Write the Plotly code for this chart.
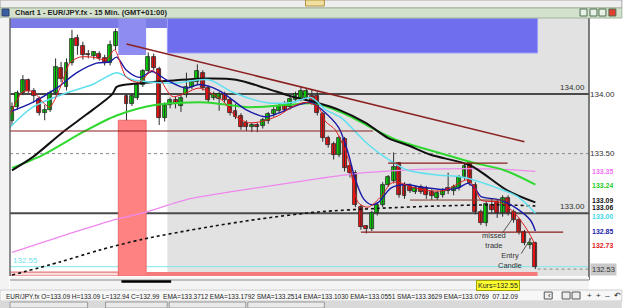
import plotly.graph_objects as go

# ---------------- data (EUR/JPY 15 min) ----------------
candle_x = list(range(0, 20)) + list(range(21, 97))   # index 20 = gap (no bar)
opens = [133.77, 133.89, 134.01, 134.12, 134.03, 133.96, 133.84, 133.87, 134.01, 134.22,
         134.06, 134.26, 134.47, 134.40, 134.34, 134.32, 134.34, 134.30, 134.26, 134.40,
         133.98, 133.92, 133.97, 134.08, 134.19, 134.31, 134.21, 133.80, 133.91, 133.95,
         133.90, 133.99, 134.06, 134.10, 134.18, 134.05, 133.97, 133.96, 134.00, 133.95,
         133.86, 133.82, 133.76, 133.72, 133.74, 133.73, 133.77, 133.83, 133.86, 133.92,
         133.89, 133.95, 133.96, 133.97, 133.98, 133.98, 133.83, 133.63, 133.58, 133.49,
         133.62, 133.40, 133.34, 133.05, 132.89, 132.87, 133.00, 133.07, 133.24, 133.27,
         133.42, 133.24, 133.23, 133.18, 133.22, 133.21, 133.18, 133.13, 133.15, 133.21,
         133.19, 133.21, 133.30, 133.42, 133.24, 133.01, 132.92, 133.07, 133.09, 133.00,
         133.13, 133.01, 132.94, 132.84, 132.73, 132.75]
highs = [133.93, 134.03, 134.16, 134.13, 134.05, 133.98, 133.91, 134.03, 134.30, 134.27,
         134.30, 134.54, 134.50, 134.44, 134.37, 134.36, 134.36, 134.33, 134.45, 134.55,
         134.00, 134.00, 134.10, 134.21, 134.35, 134.34, 134.23, 133.93, 133.97, 133.98,
         134.00, 134.18, 134.12, 134.25, 134.20, 134.07, 134.02, 134.02, 134.02, 133.97,
         133.92, 133.84, 133.78, 133.76, 133.76, 133.80, 133.85, 133.89, 133.92, 133.94,
         133.98, 134.02, 134.06, 134.05, 134.04, 134.02, 133.85, 133.65, 133.60, 133.65,
         133.64, 133.42, 133.36, 133.07, 132.90, 133.02, 133.09, 133.26, 133.32, 133.51,
         133.43, 133.26, 133.25, 133.23, 133.24, 133.23, 133.20, 133.19, 133.21, 133.34,
         133.24, 133.32, 133.42, 133.44, 133.26, 133.03, 133.10, 133.12, 133.11, 133.15,
         133.15, 133.03, 132.96, 132.86, 132.79, 132.76]
lows = [133.74, 133.87, 133.99, 134.01, 133.93, 133.82, 133.78, 133.85, 133.99, 134.10,
        134.03, 134.24, 134.33, 134.29, 134.30, 134.29, 134.28, 134.24, 134.24, 134.37,
        133.78, 133.90, 133.95, 134.06, 134.17, 134.20, 133.74, 133.77, 133.88, 133.88,
        133.85, 133.97, 134.04, 134.08, 134.03, 133.93, 133.95, 133.86, 133.93, 133.82,
        133.79, 133.70, 133.69, 133.68, 133.68, 133.71, 133.75, 133.81, 133.84, 133.85,
        133.87, 133.93, 133.94, 133.95, 133.91, 133.82, 133.60, 133.55, 133.45, 133.47,
        133.35, 133.30, 133.05, 132.86, 132.83, 132.85, 132.98, 133.05, 133.22, 133.25,
        133.13, 133.12, 133.17, 133.16, 133.16, 133.12, 133.11, 133.11, 133.13, 133.16,
        133.15, 133.19, 133.28, 133.23, 132.99, 132.90, 132.89, 133.00, 132.96, 132.97,
        132.98, 132.92, 132.82, 132.73, 132.70, 132.53]
closes = [133.89, 134.01, 134.12, 134.03, 133.98, 133.84, 133.87, 134.01, 134.23, 134.13,
          134.26, 134.46, 134.40, 134.33, 134.33, 134.35, 134.30, 134.26, 134.41, 134.52,
          133.92, 133.98, 134.08, 134.19, 134.31, 134.22, 133.80, 133.91, 133.95, 133.92,
          133.97, 134.06, 134.10, 134.19, 134.05, 133.95, 134.00, 134.00, 133.95, 133.84,
          133.81, 133.72, 133.72, 133.74, 133.72, 133.78, 133.83, 133.87, 133.90, 133.87,
          133.96, 134.00, 134.03, 134.03, 133.93, 133.84, 133.63, 133.57, 133.49, 133.63,
          133.38, 133.34, 133.07, 132.88, 132.87, 133.00, 133.07, 133.24, 133.30, 133.39,
          133.15, 133.14, 133.19, 133.21, 133.18, 133.15, 133.14, 133.17, 133.19, 133.19,
          133.22, 133.30, 133.40, 133.25, 133.01, 132.92, 133.08, 133.03, 133.00, 133.13,
          133.00, 132.94, 132.84, 132.75, 132.75, 132.55]

# indicator curves (bar index, value)
ema_red_x = [-0.4, 2.0, 3.8, 5.7, 6.9, 8.8, 10.6, 12.4, 14.8, 17.3, 18.8, 21.0, 23.4, 25.7, 27.0,
             29.4, 31.9, 34.3, 38.5, 41.1, 43.4, 45.8, 48.9, 51.3, 53.8, 56.2, 57.5, 59.3, 61.7,
             63.5, 65.3, 67.7, 69.5, 70.8, 73.2, 76.3, 79.4, 82.3, 83.6, 84.9, 86.0, 89.6, 92.2,
             94.5, 96.0]
ema_red_y = [133.82, 134.02, 134.02, 133.93, 133.89, 134.05, 134.26, 134.31, 134.31, 134.29, 134.37,
             134.14, 134.10, 134.20, 134.14, 133.98, 134.01, 134.05, 133.95, 133.81, 133.76, 133.77,
             133.82, 133.89, 133.93, 133.89, 133.77, 133.70, 133.45, 133.09, 133.05, 133.14, 133.25,
             133.26, 133.22, 133.19, 133.19, 133.26, 133.28, 133.21, 133.11, 133.09, 133.00, 132.86,
             132.73]
ema_blue_x = [-0.4, 3.8, 8.2, 11.9, 15.5, 17.9, 19.2, 21.0, 23.4, 25.7, 28.3, 31.9, 34.3, 38.0,
              42.9, 46.5, 48.9, 52.6, 54.9, 56.8, 59.9, 61.5, 63.0, 64.5, 66.0, 67.2, 69.5, 72.1,
              75.0, 78.7, 81.8, 83.6, 84.9, 86.0, 89.6, 92.2, 95.1, 96.0]
ema_blue_y = [133.85, 133.93, 134.05, 134.18, 134.26, 134.27, 134.31, 134.20, 134.14, 134.19,
              134.12, 134.05, 134.08, 134.03, 133.87, 133.81, 133.84, 133.91, 133.93, 133.87,
              133.72, 133.53, 133.28, 133.12, 133.07, 133.09, 133.21, 133.24, 133.22, 133.20,
              133.21, 133.25, 133.21, 133.14, 133.11, 133.05, 132.94, 132.85]
ema_cyan_x = [-0.4, 3.8, 10.0, 14.8, 19.2, 22.1, 25.7, 29.4, 36.1, 40.3, 46.5, 51.3, 54.9, 57.5,
              60.4, 64.8, 68.4, 72.6, 78.1, 83.0, 89.1, 92.7, 96.0]
ema_cyan_y = [133.72, 133.89, 134.01, 134.08, 134.18, 134.12, 134.10, 134.09, 134.12, 134.02,
              133.93, 133.93, 133.97, 133.87, 133.80, 133.60, 133.47, 133.36, 133.32, 133.30,
              133.21, 133.14, 133.00]
ema_black_x = [0.0, 3.8, 9.3, 13.7, 18.4, 19.2, 21.0, 25.7, 35.6, 41.1, 46.5, 51.3, 55.7, 59.9,
               64.8, 69.0, 72.6, 76.8, 84.1, 90.9, 96.0]
ema_black_y = [133.36, 133.47, 133.68, 133.83, 134.00, 134.06, 134.08, 134.10, 134.13, 134.12,
               134.05, 133.98, 133.93, 133.87, 133.76, 133.63, 133.57, 133.49, 133.40, 133.19,
               133.09]
ema_green_x = [0.0, 5.7, 13.0, 19.2, 26.5, 35.6, 43.4, 50.7, 55.7, 61.7, 65.8, 70.8, 78.1, 84.1,
               90.3, 96.0]
ema_green_y = [133.38, 133.49, 133.68, 133.82, 133.91, 133.93, 133.89, 133.91, 133.92, 133.82,
               133.72, 133.61, 133.51, 133.43, 133.36, 133.24]
sma_pink_x = [0.0, 10.0, 19.2, 23.9, 32.5, 40.3, 48.9, 56.2, 64.8, 76.8, 89.1, 96.0]
sma_pink_y = [132.67, 132.82, 132.95, 133.00, 133.12, 133.18, 133.24, 133.29, 133.34, 133.37,
              133.37, 133.35]
sma_dot_x = [0.0, 8.8, 16.1, 23.9, 34.3, 45.3, 56.2, 67.2, 78.1, 89.1, 96.0]
sma_dot_y = [132.48, 132.59, 132.69, 132.78, 132.87, 132.95, 133.01, 133.04, 133.06, 133.07, 133.06]

# tick labels of the time axis
tick_pos = [4.7, 12.4, 20.4, 27.9, 35.9, 44.3, 52.6, 60.4, 68.4, 76.6, 84.5]
tick_text = ["18:45", "20:45", "22:45", "7th", "7th", "04:30", "06:30", "08:30", "10:30", "12:30", "14:30"]

# drawn objects (price levels / zones)
session_start = 28.5
zone_blue = (28.5, 96.4, 134.345)
zone_red_col = (19.5, 24.6, 133.78)
zone_bottom = (24.6, 96.4, 132.505)
level_lines = [134.00, 133.00]
level_dotted = 133.50
red_levels = [(-0.4, 66.2, 133.69), (69.0, 90.9, 133.42), (64.0, 101.1, 132.84)]
brown_level = (73.0, 91.0, 133.11)
trend = ((21.0, 134.42), (94.0, 133.60))
cyan_level = 132.55
last_price = 132.53
kurs = 132.55
right_labels = [(133.35, "#f070f0", 0), (133.24, "#22cc22", 0), (133.09, "#111111", 2),
                (133.06, "#111111", -1), (133.00, "#40d8e8", -3), (132.85, "#1c1ca8", 0),
                (132.73, "#e02020", 0)]

# ---------------- figure ----------------
W, H = 625, 308
ML, MR, MT, MB = 10, 33, 18, 32
PW, PH = W - ML - MR, H - MT - MB
XR = [-0.365, 105.84]
YR = [132.472, 134.639]
FONT = "Liberation Sans, Arial, sans-serif"


def fx(px):
    return (px - ML) / PW


def fy(py):
    return (H - MB - py) / PH


fig = go.Figure()

# candles: wicks then bodies
wx, wy = [], []
for x, h, l in zip(candle_x, highs, lows):
    wx += [x, x, None]
    wy += [l, h, None]
fig.add_trace(go.Scatter(x=wx, y=wy, mode="lines", line=dict(color="#2e2e2e", width=1),
                         showlegend=False, hoverinfo="skip"))
body_base = [min(o, c) for o, c in zip(opens, closes)]
body_len = [abs(c - o) for o, c in zip(opens, closes)]
body_col = ["#00dd00" if c >= o else "#ff1010" for o, c in zip(opens, closes)]
fig.add_trace(go.Bar(x=candle_x, y=body_len, base=body_base, width=0.72,
                     marker=dict(color=body_col, line=dict(color="#262626", width=0.8)),
                     showlegend=False, hoverinfo="skip"))


def curve(xs, ys, color, width, dash="solid"):
    fig.add_trace(go.Scatter(x=xs, y=ys, mode="lines", showlegend=False, hoverinfo="skip",
                             line=dict(color=color, width=width, dash=dash, shape="spline",
                                       smoothing=0.8)))


curve(sma_dot_x, sma_dot_y, "#111111", 1.6, dash="dot")
curve(sma_pink_x, sma_pink_y, "#ee88ee", 1.3)
curve(ema_green_x, ema_green_y, "#2fd82f", 2.0)
curve(ema_black_x, ema_black_y, "#111111", 2.0)
curve(ema_cyan_x, ema_cyan_y, "#5ee0f0", 1.5)
curve(ema_blue_x, ema_blue_y, "#1a1aa8", 1.4)
curve(ema_red_x, ema_red_y, "#e01c1c", 1.0)

shapes = []
shapes.append(dict(type="rect", xref="x", yref="paper", x0=session_start, x1=XR[1], y0=0, y1=1,
                   fillcolor="#e2e2e2", line_width=0, layer="below"))
shapes.append(dict(type="rect", xref="x", yref="y", x0=zone_blue[0], x1=zone_blue[1],
                   y0=zone_blue[2], y1=YR[1], fillcolor="#6e6eee", line=dict(color="#9c9cff", width=1),
                   layer="below"))
shapes.append(dict(type="rect", xref="paper", yref="paper", x0=0, x1=fx(168), y0=fy(28), y1=1,
                   fillcolor="#7b7be8", line_width=0, layer="below"))
shapes.append(dict(type="rect", xref="x", yref="paper", x0=zone_red_col[0], x1=zone_red_col[1],
                   y0=fy(55), y1=1, fillcolor="#8e8cf0", line_width=0, layer="below"))
shapes.append(dict(type="rect", xref="x", yref="y", x0=zone_red_col[0], x1=zone_red_col[1],
                   y0=YR[0], y1=zone_red_col[2], fillcolor="#ff8282", line=dict(color="#e86a6a", width=1),
                   layer="below"))
shapes.append(dict(type="rect", xref="x", yref="y", x0=zone_bottom[0], x1=zone_bottom[1],
                   y0=YR[0], y1=zone_bottom[2], fillcolor="#f47a7a", line_width=0, layer="below"))
shapes.append(dict(type="rect", xref="x", yref="y", x0=XR[0], x1=zone_red_col[0],
                   y0=YR[0], y1=zone_bottom[2], fillcolor="#fbdcdc", line=dict(color="#e06060", width=1),
                   layer="below"))
for lv in level_lines:
    shapes.append(dict(type="line", xref="paper", yref="y", x0=0, x1=1, y0=lv, y1=lv,
                       line=dict(color="#4a4a4a", width=2), layer="below"))
shapes.append(dict(type="line", xref="paper", yref="y", x0=0, x1=1, y0=level_dotted, y1=level_dotted,
                   line=dict(color="#8a8a8a", width=1, dash="dot"), layer="below"))
shapes.append(dict(type="line", xref="paper", yref="y", x0=0, x1=1, y0=cyan_level, y1=cyan_level,
                   line=dict(color="#7ee8ee", width=1), layer="below"))
for x0, x1, lv in red_levels:
    shapes.append(dict(type="line", xref="x", yref="y", x0=x0, x1=x1, y0=lv, y1=lv,
                       line=dict(color="#8b1c1c", width=1.2)))
shapes.append(dict(type="line", xref="x", yref="y", x0=brown_level[0], x1=brown_level[1],
                   y0=brown_level[2], y1=brown_level[2], line=dict(color="#7a3a2a", width=1)))
shapes.append(dict(type="line", xref="x", yref="y", x0=trend[0][0], y0=trend[0][1],
                   x1=trend[1][0], y1=trend[1][1], line=dict(color="#8b2020", width=1.5)))
shapes.append(dict(type="line", xref="x", yref="y", x0=zone_bottom[1], x1=XR[1],
                   y0=last_price, y1=last_price, line=dict(color="#888888", width=1, dash="dot")))
shapes.append(dict(type="line", xref="x", yref="y", x0=89.9, y0=132.83, x1=91.9, y1=132.96,
                   line=dict(color="#555555", width=1)))
shapes.append(dict(type="line", xref="x", yref="y", x0=93.4, y0=132.66, x1=95.2, y1=132.79,
                   line=dict(color="#555555", width=1)))
shapes.append(dict(type="line", xref="paper", yref="paper", x0=0, x1=0, y0=0, y1=1,
                   line=dict(color="#666666", width=1.5)))
shapes.append(dict(type="line", xref="paper", yref="paper", x0=1, x1=1, y0=fy(280), y1=1,
                   line=dict(color="#555555", width=1.5)))


def prect(x0, y0, x1, y1, fill, line=None, lw=0):
    shapes.append(dict(type="rect", xref="paper", yref="paper", x0=fx(x0), x1=fx(x1),
                       y0=fy(y1), y1=fy(y0), fillcolor=fill,
                       line=dict(color=line or fill, width=lw)))


prect(0, 0, 625, 8, "#eeeeee", "#a8a8a8", 1)
prect(0, 8, 625, 18, "#d4e2cd", "#9fb59a", 1)
prect(0, 18, 9, 300, "#f3f3f3")
prect(10, 277, 592, 290, "#f4f4f4")
shapes.append(dict(type="line", xref="paper", yref="paper", x0=0, x1=fx(592), y0=fy(280), y1=fy(280),
                   line=dict(color="#8a8a8a", width=1)))
shapes.append(dict(type="line", xref="paper", yref="paper", x0=fx(122), x1=fx(172), y0=fy(281.5),
                   y1=fy(281.5), line=dict(color="#000000", width=2.5)))
prect(0, 290, 625, 301, "#f7f7f7", "#cfcfcf", 1)
prect(0, 301, 625, 308, "#d9d9d9")
for a, b in [(10, 88), (106, 168), (170, 247), (249, 326)]:
    prect(a, 302, b, 308, "#e9e9e9", "#9a9a9a", 1)
for i, xb in enumerate([583, 593, 602, 612]):
    prect(xb, 9, xb + 7, 16, "#e04030" if i == 3 else "#e8f2e8", "#4f6f4f", 1)
prect(2, 9, 9, 16, "#3a5fa0", "#2a3f70", 1)
prect(547, 292, 555, 299, "#eeeeee", "#555555", 1)
prect(565, 292, 573, 299, "#eeeeee", "#555555", 1)
prect(575, 292, 583, 299, "#eeeeee", "#555555", 1)
prect(307, 0, 326, 6, "#f0e0a0", "#b09040", 1)

ann = []


def ptext(x, y, text, size=7, color="#222222", xanchor="left", bold=False):
    ann.append(dict(xref="paper", yref="paper", x=fx(x), y=fy(y), text=f"<b>{text}</b>" if bold else text,
                    showarrow=False, xanchor=xanchor, yanchor="middle",
                    font=dict(family=FONT, size=size, color=color)))


ptext(13, 13, "Chart 1 - EUR/JPY.fx - 15 Min. (GMT+01:00)", size=7.5, bold=True)
ptext(4, 296, "EUR/JPY.fx O=133.09 H=133.09 L=132.94 C=132.99  EMA=133.3712 EMA=133.1792 "
              "SMA=133.2514 EMA=133.1030 EMA=133.0551 SMA=133.3629 EMA=133.0769  07.12.09",
      size=6.5, color="#222222")
ptext(588, 295.5, "+  +  –  ↶", size=8, color="#222222")
ptext(549, 295.5, "‹", size=8, color="#222222")

for v, c, sh in right_labels:
    ann.append(dict(xref="paper", yref="y", x=1, y=v, xanchor="left", yanchor="middle", xshift=1,
                    yshift=sh, text=f"<b>{v:.2f}</b>", showarrow=False, height=6, valign="middle",
                    font=dict(family=FONT, size=7, color=c)))
ann.append(dict(xref="paper", yref="y", x=1, y=last_price, xanchor="left", yanchor="middle", xshift=1,
                text=f"{last_price:.2f}", showarrow=False, bgcolor="#c9c9c9", borderpad=1,
                font=dict(family=FONT, size=7.5, color="#333333")))
for lv in level_lines:
    ann.append(dict(xref="x", yref="y", x=105.5, y=lv, xanchor="right", yanchor="bottom",
                    text=f"{lv:.2f}", showarrow=False, font=dict(family=FONT, size=8, color="#333333")))
ann.append(dict(xref="x", yref="y", x=-0.1, y=cyan_level, xanchor="left", yanchor="bottom",
                text=f"{cyan_level:.2f}", showarrow=False, font=dict(family=FONT, size=8, color="#6ee0ee")))
ann.append(dict(xref="x", yref="y", x=88.4, y=132.77, text="missed<br>trade", showarrow=False,
                font=dict(family=FONT, size=7.5, color="#333333")))
ann.append(dict(xref="x", yref="y", x=91.3, y=132.60, text="Entry<br>Candle", showarrow=False,
                font=dict(family=FONT, size=7.5, color="#333333")))
ann.append(dict(xref="paper", yref="paper", x=fx(523), y=fy(291), text=f"Kurs={kurs:.2f}",
                showarrow=False, bgcolor="#ffff30", bordercolor="#a0a000", borderwidth=1, borderpad=1,
                font=dict(family=FONT, size=7, color="#222222")))

fig.update_layout(
    width=W, height=H, margin=dict(l=ML, r=MR, t=MT, b=MB),
    paper_bgcolor="#ffffff", plot_bgcolor="#ffffff",
    shapes=shapes, annotations=ann, showlegend=False, bargap=0,
    xaxis=dict(range=XR, showgrid=False, zeroline=False,
               tickvals=tick_pos, ticktext=tick_text, ticks="", showline=False,
               tickfont=dict(family=FONT, size=7, color="#333333")),
    yaxis=dict(range=YR, side="right", showgrid=False, zeroline=False, ticks="",
               tickvals=[134.0, 133.5], ticktext=["134.00", "133.50"], showline=False,
               tickfont=dict(family=FONT, size=8, color="#333333")),
)

fig.write_html("out.html")
